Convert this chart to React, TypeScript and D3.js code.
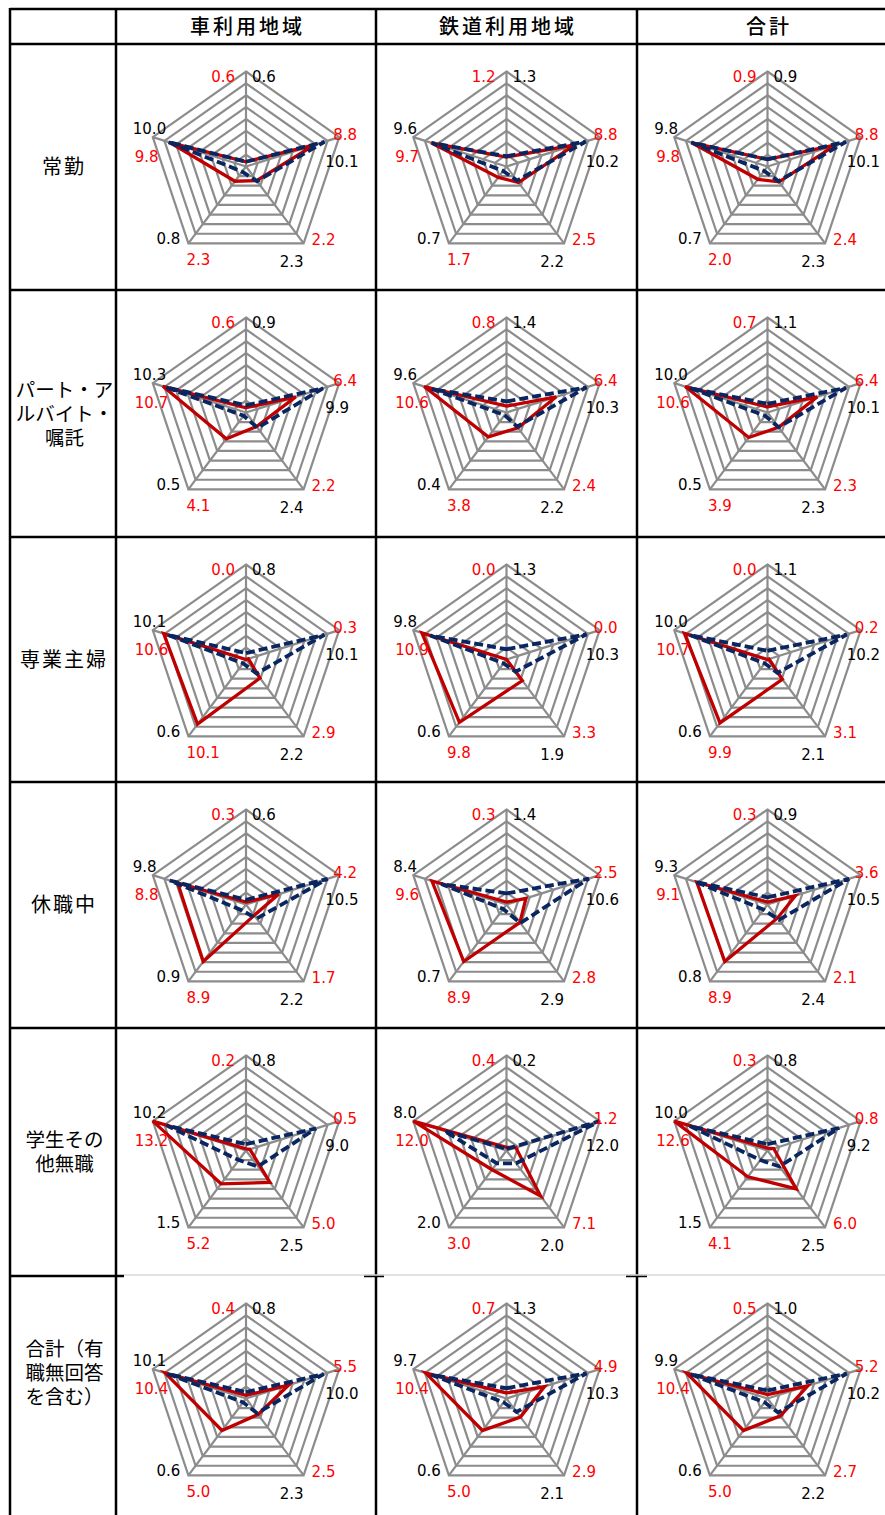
import React from "react";
import * as d3 from "d3";

// column headers and row headers (line breaks as in the table)
const COLUMN_TITLES = ["車利用地域", "鉄道利用地域", "合計"];
const ROW_TITLES = [
  ["常勤"],
  ["パート・ア", "ルバイト・", "嘱託"],
  ["専業主婦"],
  ["休職中"],
  ["学生その", "他無職"],
  ["合計（有", "職無回答", "を含む）"],
];

// five axes, clockwise from the top; [row][column][axis]
const RED_VALUES = [
  [[0.6, 8.8, 2.2, 2.3, 9.8], [1.2, 8.8, 2.5, 1.7, 9.7], [0.9, 8.8, 2.4, 2.0, 9.8]],
  [[0.6, 6.4, 2.2, 4.1, 10.7], [0.8, 6.4, 2.4, 3.8, 10.6], [0.7, 6.4, 2.3, 3.9, 10.6]],
  [[0.0, 0.3, 2.9, 10.1, 10.6], [0.0, 0.0, 3.3, 9.8, 10.9], [0.0, 0.2, 3.1, 9.9, 10.7]],
  [[0.3, 4.2, 1.7, 8.9, 8.8], [0.3, 2.5, 2.8, 8.9, 9.6], [0.3, 3.6, 2.1, 8.9, 9.1]],
  [[0.2, 0.5, 5.0, 5.2, 13.2], [0.4, 1.2, 7.1, 3.0, 12.0], [0.3, 0.8, 6.0, 4.1, 12.6]],
  [[0.4, 5.5, 2.5, 5.0, 10.4], [0.7, 4.9, 2.9, 5.0, 10.4], [0.5, 5.2, 2.7, 5.0, 10.4]],
];

const NAVY_VALUES = [
  [[0.6, 10.1, 2.3, 0.8, 10.0], [1.3, 10.2, 2.2, 0.7, 9.6], [0.9, 10.1, 2.3, 0.7, 9.8]],
  [[0.9, 9.9, 2.4, 0.5, 10.3], [1.4, 10.3, 2.2, 0.4, 9.6], [1.1, 10.1, 2.3, 0.5, 10.0]],
  [[0.8, 10.1, 2.2, 0.6, 10.1], [1.3, 10.3, 1.9, 0.6, 9.8], [1.1, 10.2, 2.1, 0.6, 10.0]],
  [[0.6, 10.5, 2.2, 0.9, 9.8], [1.4, 10.6, 2.9, 0.7, 8.4], [0.9, 10.5, 2.4, 0.8, 9.3]],
  [[0.8, 9.0, 2.5, 1.5, 10.2], [0.2, 12.0, 2.0, 2.0, 8.0], [0.8, 9.2, 2.5, 1.5, 10.0]],
  [[0.8, 10.0, 2.3, 0.6, 10.1], [1.3, 10.3, 2.1, 0.6, 9.7], [1.0, 10.2, 2.2, 0.6, 9.9]],
];

const AXIS_MAX = 12;
const RINGS = 8;

const W = 885;
const H = 1515;
const COL_X = [10, 116, 376, 637, 898];
const ROW_Y = [9, 44, 290, 537, 782, 1028, 1276, 1522];
const LABEL_BOTTOM = 1470; // last row is cut off in the picture

const RX = 98;
const RY = 95;
const CENTER_DY = 122.5;

const RED = "#C00000";
const NAVY = "#0A2660";
const GRID = "#8C8C8C";
const NUM_FONT = "'DejaVu Sans', sans-serif";
const JP_FONT = "'Noto Sans CJK JP', sans-serif";
// latin font first keeps the line box tight; the kana fall back to Noto CJK
const JP_WRAP_FONT = "'Liberation Sans', 'Noto Sans CJK JP', sans-serif";

// label offsets from each outer vertex: [dx, dy, anchor]
const RED_LABEL_POS: [number, number, string][] = [
  [-11, 10, "end"],
  [-6, 2.5, "start"],
  [8, 2, "start"],
  [-2, 22, "start"],
  [-18, 24.5, "start"],
];
const NAVY_LABEL_POS: [number, number, string][] = [
  [6, 10, "start"],
  [-14, 29.5, "start"],
  [0, 24, "end"],
  [-8, 1, "end"],
  [-20, -3.5, "start"],
];

const angle = (i: number) => (i * 2 * Math.PI) / 5;

function Radar({ cx, cy, red, navy }: { cx: number; cy: number; red: number[]; navy: number[] }) {
  const r = d3.scaleLinear().domain([0, AXIS_MAX]).range([0, 1]).clamp(true);
  const pt = (i: number, v: number): [number, number] => [
    cx + RX * r(v) * Math.sin(angle(i)),
    cy - RY * r(v) * Math.cos(angle(i)),
  ];
  const line = d3
    .line<[number, number]>()
    .x((d) => d[0])
    .y((d) => d[1])
    .curve(d3.curveLinearClosed);
  const axes = d3.range(5);
  const ringVals = d3.range(1, RINGS + 1).map((k) => (k * AXIS_MAX) / RINGS);
  const fmt = d3.format(".1f");

  return (
    <g>
      {ringVals.map((v) => (
        <path key={v} d={line(axes.map((i) => pt(i, v))) || ""} fill="none" stroke={GRID} strokeWidth={2.2} />
      ))}
      {axes.map((i) => {
        const [x, y] = pt(i, AXIS_MAX);
        return <line key={i} x1={cx} y1={cy} x2={x} y2={y} stroke={GRID} strokeWidth={2.2} />;
      })}
      <path d={line(red.map((v, i) => pt(i, v))) || ""} fill="none" stroke={RED} strokeWidth={3.3} strokeLinejoin="miter" />
      <path
        d={line(navy.map((v, i) => pt(i, v))) || ""}
        fill="none"
        stroke={NAVY}
        strokeWidth={3.8}
        strokeDasharray="9 4"
        strokeLinejoin="miter"
      />
      {axes.map((i) => {
        const [x, y] = pt(i, AXIS_MAX);
        const [rdx, rdy, ra] = RED_LABEL_POS[i];
        const [ndx, ndy, na] = NAVY_LABEL_POS[i];
        return (
          <g key={"l" + i} fontFamily={NUM_FONT} fontSize={15}>
            <text x={x + rdx} y={y + rdy} textAnchor={ra} fill="#FF0000">
              {fmt(red[i])}
            </text>
            <text x={x + ndx} y={y + ndy} textAnchor={na} fill="#000">
              {fmt(navy[i])}
            </text>
          </g>
        );
      })}
    </g>
  );
}

export default function App() {
  const bodyRows = d3.range(6);
  return (
    <div style={{ position: "absolute", left: 0, top: 0 }}>
      <svg width={W} height={H} viewBox={`0 0 ${W} ${H}`} style={{ display: "block", background: "#fff" }}>
        {/* header titles */}
        {COLUMN_TITLES.map((t, c) => (
          <text
            key={t}
            x={(COL_X[c + 1] + COL_X[c + 2]) / 2 + 1.5}
            y={(ROW_Y[0] + ROW_Y[1]) / 2 + 7}
            textAnchor="middle"
            fontFamily={JP_FONT}
            fontSize={20}
            fontWeight={500}
            letterSpacing={3}
          >
            {t}
          </text>
        ))}

        {/* row titles, one text per line */}
        {ROW_TITLES.map((lines, row) => {
          const top = ROW_Y[row + 1];
          const bottom = Math.min(ROW_Y[row + 2], LABEL_BOTTOM);
          const mid = (top + bottom) / 2;
          const lh = 24;
          const single = lines.length === 1;
          return lines.map((ln, k) => (
            <text
              key={row + "-" + k}
              x={(COL_X[0] + COL_X[1]) / 2 + (single ? 1 : 1.5)}
              y={mid + 7 + (k - (lines.length - 1) / 2) * lh}
              textAnchor="middle"
              fontFamily={single ? JP_FONT : JP_WRAP_FONT}
              fontSize={single ? 20 : 19.5}
              letterSpacing={single ? 2 : 0}
            >
              {ln}
            </text>
          ));
        })}

        {/* radar charts */}
        {bodyRows.map((row) =>
          [0, 1, 2].map((c) => (
            <Radar
              key={row + "-" + c}
              cx={(COL_X[c + 1] + COL_X[c + 2]) / 2}
              cy={ROW_Y[row + 1] + CENTER_DY}
              red={RED_VALUES[row][c]}
              navy={NAVY_VALUES[row][c]}
            />
          ))
        )}

        {/* table rules */}
        <g stroke="#000" strokeWidth={2.5}>
          {ROW_Y.slice(0, 6).map((y) => (
            <line key={"h" + y} x1={COL_X[0]} x2={W} y1={y} y2={y} />
          ))}
          <line x1={COL_X[0]} x2={COL_X[1] + 8} y1={ROW_Y[6]} y2={ROW_Y[6]} />
          <line x1={COL_X[2] - 12} x2={COL_X[2] + 8} y1={ROW_Y[6]} y2={ROW_Y[6]} />
          <line x1={COL_X[3] - 11} x2={COL_X[3] + 10} y1={ROW_Y[6]} y2={ROW_Y[6]} />
          {COL_X.slice(0, 4).map((x) => (
            <line key={"v" + x} x1={x} x2={x} y1={ROW_Y[0] - 1} y2={H} />
          ))}
        </g>
        <line x1={COL_X[1] + 8} x2={W} y1={ROW_Y[6] - 1} y2={ROW_Y[6] - 1} stroke="#D9D9D9" strokeWidth={1.5} />
      </svg>
    </div>
  );
}
